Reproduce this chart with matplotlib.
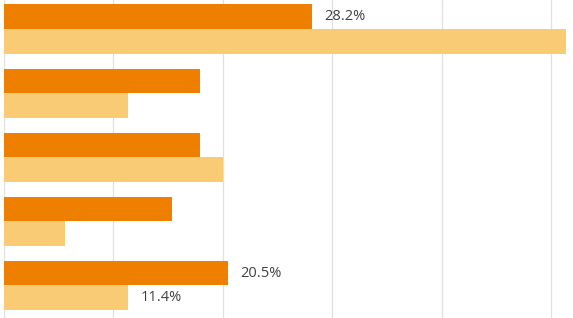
import matplotlib.pyplot as plt
import numpy as np

plt.rcParams['font.family'] = ['Open Sans', 'DejaVu Sans']

groups = ['A', 'B', 'C', 'D', 'E']
dark_vals = [28.2, 17.9, 17.9, 15.4, 20.5]
light_vals = [51.4, 11.4, 20.0, 5.6, 11.4]
dark_labels = ['28.2%', '', '', '', '20.5%']
light_labels = ['', '', '', '', '11.4%']
grid_ticks = [0, 10, 20, 30, 40, 50]

dark_color = '#EE7F00'
light_color = '#FACB75'

fig = plt.figure(figsize=(5.73, 3.18), dpi=100)
ax = fig.add_axes([3.5 / 573, 0, 1 - 3.5 / 573, 1])

y = np.arange(len(groups))
h = 0.383
ax.barh(y - h / 2, dark_vals, height=h, color=dark_color, zorder=2)
ax.barh(y + h / 2, light_vals, height=h, color=light_color, zorder=2)

for i in range(len(groups)):
    if dark_labels[i]:
        ax.text(dark_vals[i] + 1.1, y[i] - h / 2, dark_labels[i],
                va='center', ha='left', fontsize=10.5, color='#404040')
    if light_labels[i]:
        ax.text(light_vals[i] + 1.1, y[i] + h / 2, light_labels[i],
                va='center', ha='left', fontsize=10.5, color='#404040')

for g in grid_ticks:
    ax.axvline(g, color='#E0E0E0', lw=0.9, zorder=1)

ax.set_xlim(0, 52.0)
ax.set_ylim(4.508, -0.453)
ax.axis('off')

fig.savefig('out.png', dpi=100)
